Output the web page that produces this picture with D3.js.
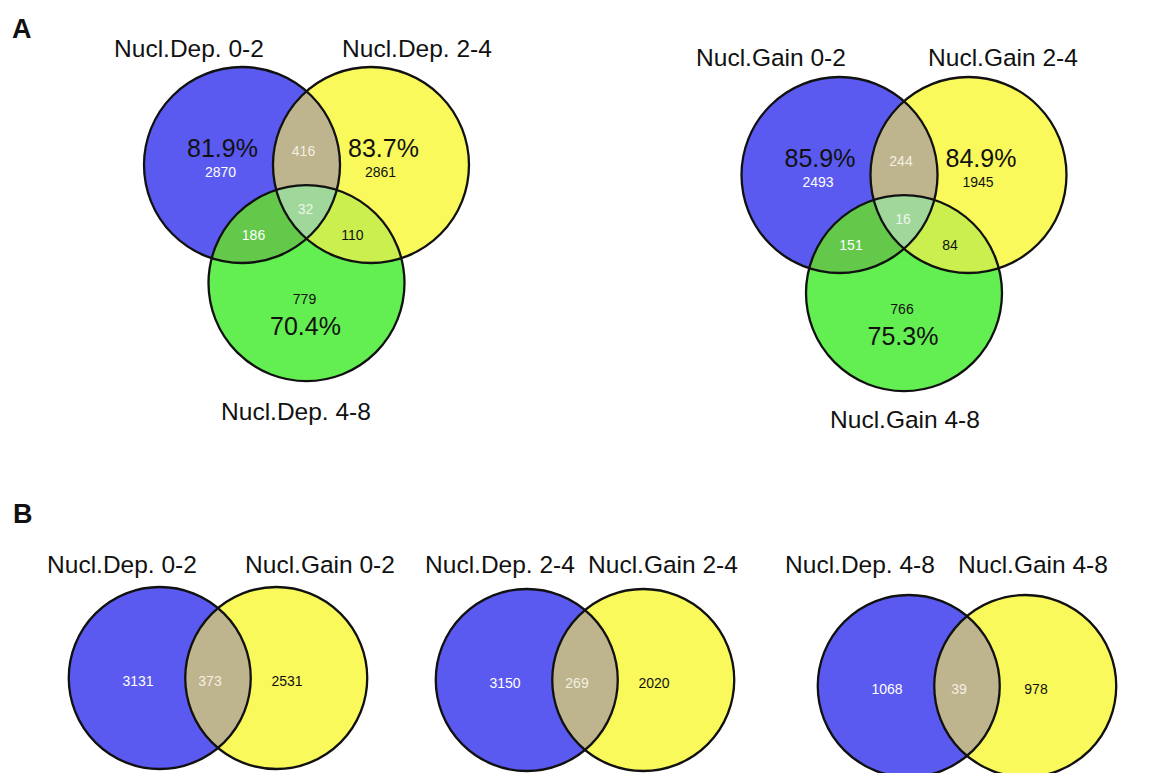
<!DOCTYPE html>
<html>
<head>
<meta charset="utf-8">
<script src="https://cdn.jsdelivr.net/npm/d3@7"></script>
<style>
  body { margin: 0; background: #ffffff; }
  svg { display: block; }
  text { font-family: "Liberation Sans", Arial, sans-serif; }
</style>
</head>
<body>
<svg id="fig" width="1159" height="773"></svg>
<script>
// Set names
const depSets = ["Nucl.Dep. 0-2", "Nucl.Dep. 2-4", "Nucl.Dep. 4-8"];
const gainSets = ["Nucl.Gain 0-2", "Nucl.Gain 2-4", "Nucl.Gain 4-8"];

// Three-way region counts: [only 1, only 2, only 3, 1&2, 1&3, 2&3, 1&2&3]
const depRegionCounts = [2870, 2861, 779, 416, 186, 110, 32];
const gainRegionCounts = [2493, 1945, 766, 244, 151, 84, 16];

// Share of each set that is unique to it (%)
const depUniquePct = [81.9, 83.7, 70.4];
const gainUniquePct = [85.9, 84.9, 75.3];

// Dep vs Gain per interval: [Dep only, shared, Gain only]
const pairIntervals = ["0-2", "2-4", "4-8"];
const pairCounts = [[3131, 373, 2531], [3150, 269, 2020], [1068, 39, 978]];

const svg = d3.select("#fig");
const COL = {
  blue: "#5a5af0", yellow: "#f9f95c", green: "#63ee52",
  ab: "#beb48d", ac: "#64c94b", bc: "#caef4f", abc: "#a0d89b"
};
let clipId = 0;

function clipCircle(cx, cy, r) {
  const id = "clip" + (clipId++);
  svg.append("clipPath").attr("id", id)
    .append("circle").attr("cx", cx).attr("cy", cy).attr("r", r);
  return "url(#" + id + ")";
}

// Panel letters
svg.append("text").attr("x", 12).attr("y", 38).attr("font-size", 27)
  .attr("font-weight", "bold").attr("fill", "#111").text("A");
svg.append("text").attr("x", 13).attr("y", 523).attr("font-size", 27)
  .attr("font-weight", "bold").attr("fill", "#111").text("B");

// ---- Three-set Venn ----
function venn3(names, counts, pcts, origin, titlePos) {
  const R = 98;
  // unit coordinates (radius = 1) mapped to pixels
  const x = d3.scaleLinear().domain([-1, 1]).range([origin[0] - R, origin[0] + R]);
  const y = d3.scaleLinear().domain([-1, 1]).range([origin[1] - R, origin[1] + R]);
  const r = R;
  const centers = [[-0.658, 0], [0.658, 0], [0, 1.205]];
  const c = centers.map(p => [x(p[0]), y(p[1])]);
  const g = svg.append("g");

  const fills = [COL.blue, COL.yellow, COL.green];
  c.forEach((p, i) => g.append("circle").attr("cx", p[0]).attr("cy", p[1]).attr("r", r).attr("fill", fills[i]));

  const clipA = clipCircle(c[0][0], c[0][1], r);
  const clipB = clipCircle(c[1][0], c[1][1], r);
  g.append("circle").attr("cx", c[1][0]).attr("cy", c[1][1]).attr("r", r)
    .attr("fill", COL.ab).attr("clip-path", clipA);
  g.append("circle").attr("cx", c[2][0]).attr("cy", c[2][1]).attr("r", r)
    .attr("fill", COL.ac).attr("clip-path", clipA);
  g.append("circle").attr("cx", c[2][0]).attr("cy", c[2][1]).attr("r", r)
    .attr("fill", COL.bc).attr("clip-path", clipB);
  g.append("g").attr("clip-path", clipA)
    .append("circle").attr("cx", c[2][0]).attr("cy", c[2][1]).attr("r", r)
    .attr("fill", COL.abc).attr("clip-path", clipB);

  c.forEach(p => g.append("circle").attr("cx", p[0]).attr("cy", p[1]).attr("r", r)
    .attr("fill", "none").attr("stroke", "#111").attr("stroke-width", 2.3));

  const pct = i => pcts[i].toFixed(1) + "%";

  // label offsets (pixels from panel origin) and colours per region
  const labels = [
    {t: counts[0], dx: -86, dy: 7, fs: 14, col: "#fff"},
    {t: counts[1], dx: 74, dy: 7, fs: 14, col: "#111"},
    {t: counts[2], dx: -2, dy: 134, fs: 14, col: "#111"},
    {t: counts[3], dx: -3, dy: -14, fs: 14, col: "#f4f0e4"},
    {t: counts[4], dx: -53, dy: 70, fs: 14, col: "#fff"},
    {t: counts[5], dx: 46, dy: 70, fs: 14, col: "#111"},
    {t: counts[6], dx: -1, dy: 44, fs: 14, col: "#eef6ea"},
    {t: pct(0), dx: -84, dy: -17, fs: 25, col: "#111"},
    {t: pct(1), dx: 77, dy: -17, fs: 25, col: "#111"},
    {t: pct(2), dx: -1, dy: 161, fs: 25, col: "#111"}
  ];
  g.selectAll("text.lab").data(labels).enter().append("text")
    .attr("x", d => origin[0] + d.dx).attr("y", d => origin[1] + d.dy)
    .attr("text-anchor", "middle").attr("dominant-baseline", "central")
    .attr("font-size", d => d.fs).attr("fill", d => d.col).text(d => d.t);

  names.forEach((n, i) => g.append("text")
    .attr("x", titlePos[i][0]).attr("y", titlePos[i][1])
    .attr("text-anchor", "middle").attr("font-size", 24.5).attr("fill", "#111").text(n));
}

venn3(depSets, depRegionCounts, depUniquePct, [306.5, 165], [[189, 57], [417, 57], [296, 420]]);
venn3(gainSets, gainRegionCounts, gainUniquePct, [904, 175], [[771, 66], [1003, 66], [905, 428]]);

// ---- Two-set Venn (Dep vs Gain per interval) ----
const pairLayout = [[218, 678], [585, 680], [967, 686]];
pairIntervals.forEach((iv, k) => {
  const R = 91;
  const [mx, my] = pairLayout[k];
  const x = d3.scaleLinear().domain([-1, 1]).range([mx - R, mx + R]);
  const cA = [x(-0.64), my], cB = [x(0.64), my];
  const g = svg.append("g");
  g.append("circle").attr("cx", cA[0]).attr("cy", cA[1]).attr("r", R).attr("fill", COL.blue);
  g.append("circle").attr("cx", cB[0]).attr("cy", cB[1]).attr("r", R).attr("fill", COL.yellow);
  const clipA = clipCircle(cA[0], cA[1], R);
  g.append("circle").attr("cx", cB[0]).attr("cy", cB[1]).attr("r", R)
    .attr("fill", COL.ab).attr("clip-path", clipA);
  [cA, cB].forEach(p => g.append("circle").attr("cx", p[0]).attr("cy", p[1]).attr("r", R)
    .attr("fill", "none").attr("stroke", "#111").attr("stroke-width", 2.3));

  const vals = pairCounts[k];
  const offs = [-80, -8, 69];
  const cols = ["#fff", "#f4f0e4", "#111"];
  g.selectAll("text.v").data(vals).enter().append("text")
    .attr("x", (d, i) => mx + offs[i]).attr("y", my + 3)
    .attr("text-anchor", "middle").attr("dominant-baseline", "central")
    .attr("font-size", 14).attr("fill", (d, i) => cols[i]).text(d => d);

  const titles = ["Nucl.Dep. " + iv, "Nucl.Gain " + iv];
  const tx = [[122, 320], [500, 663], [860, 1033]][k];
  titles.forEach((t, i) => g.append("text").attr("x", tx[i]).attr("y", 573)
    .attr("text-anchor", "middle").attr("font-size", 24.5).attr("fill", "#111").text(t));
});
</script>
</body>
</html>
